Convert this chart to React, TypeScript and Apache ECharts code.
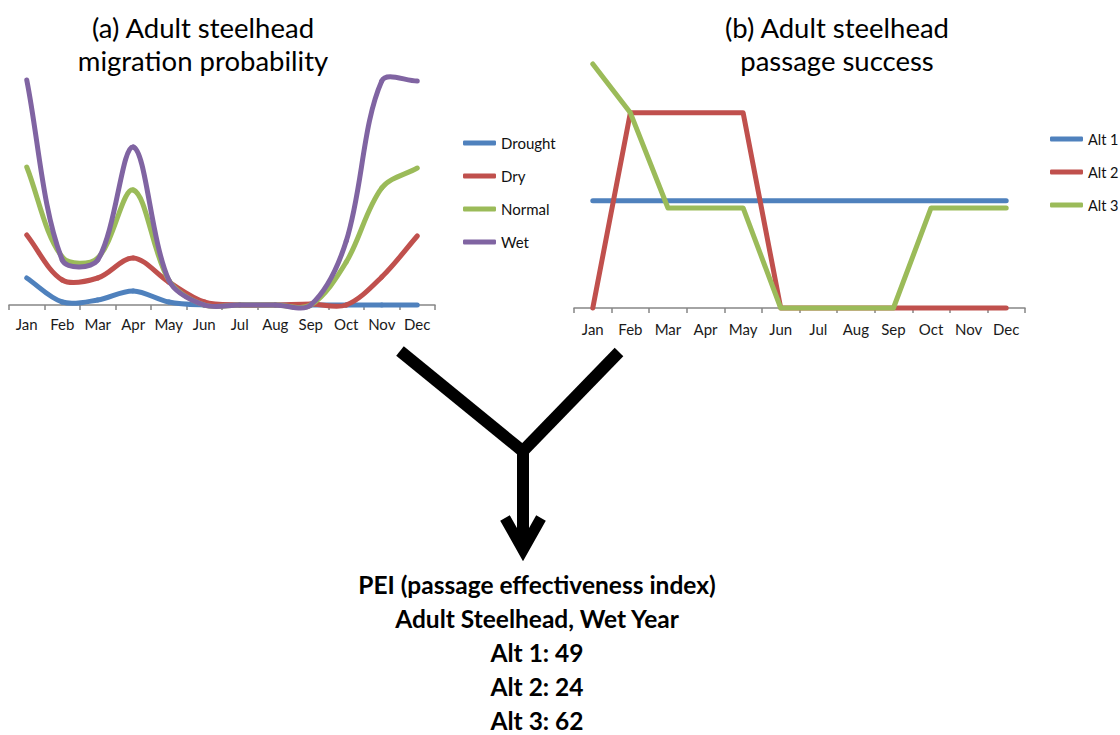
import React, { useEffect, useRef } from "react";
import * as echarts from "echarts";

const months = ["Jan", "Feb", "Mar", "Apr", "May", "Jun", "Jul", "Aug", "Sep", "Oct", "Nov", "Dec"];

// (a) migration probability (relative units)
const drought = [0.027, 0.003, 0.005, 0.014, 0.003, 0, 0, 0, 0, 0, 0, 0];
const dry = [0.07, 0.025, 0.027, 0.047, 0.023, 0.003, 0, 0, 0.001, 0, 0.028, 0.069];
const normal = [0.138, 0.048, 0.047, 0.115, 0.025, 0, 0, 0, 0, 0.043, 0.117, 0.137];
const wet = [0.225, 0.045, 0.045, 0.158, 0.025, 0, 0, 0, 0, 0.064, 0.224, 0.224];

// (b) passage success
const alt1 = [0.44, 0.44, 0.44, 0.44, 0.44, 0.44, 0.44, 0.44, 0.44, 0.44, 0.44, 0.44];
const alt2 = [0, 0.8, 0.8, 0.8, 0.8, 0, 0, 0, 0, 0, 0, 0];
const alt3 = [1.0, 0.8, 0.41, 0.41, 0.41, 0, 0, 0, 0, 0.41, 0.41, 0.41];

const titleA = ["(a) Adult steelhead", "migration probability"];
const titleB = ["(b) Adult steelhead", "passage success"];
const peiLines = [
  "PEI (passage effectiveness index)",
  "Adult Steelhead, Wet Year",
  "Alt 1: 49",
  "Alt 2: 24",
  "Alt 3: 62",
];

const BLUE = "#4F81BD";
const RED = "#C0504D";
const GREEN = "#9BBB59";
const PURPLE = "#8064A2";
const LW = 5;

// Excel-like smoothed line (chord-weighted Catmull-Rom segments) through the axis scales
function smoothSeries(name: string, values: number[], color: string) {
  const n = values.length;
  return {
    type: "custom" as const,
    name,
    xAxisIndex: 0,
    yAxisIndex: 0,
    itemStyle: { color },
    data: values.map((v, i) => [i, v]),
    encode: { x: 0, y: 1 },
    renderItem: (params: any, api: any) => {
      const i = params.dataIndex;
      if (i >= n - 1) return null;
      const pt = (k: number) => {
        const kk = Math.max(0, Math.min(n - 1, k));
        return api.coord([kk, values[kk]]);
      };
      const dist = (a: number[], b: number[]) => Math.hypot(a[0] - b[0], a[1] - b[1]);
      const p0 = pt(i - 1);
      const p1 = pt(i);
      const p2 = pt(i + 1);
      const p3 = pt(i + 2);
      const s = 1 / 3;
      const l01 = dist(p0, p1);
      const l12 = dist(p1, p2);
      const l23 = dist(p2, p3);
      const r1 = l01 + l12 > 0 ? l12 / (l01 + l12) : 0.5;
      const r2 = l12 + l23 > 0 ? l12 / (l12 + l23) : 0.5;
      return {
        type: "bezierCurve",
        shape: {
          x1: p1[0],
          y1: p1[1],
          x2: p2[0],
          y2: p2[1],
          cpx1: p1[0] + (p2[0] - p0[0]) * s * r1,
          cpy1: p1[1] + (p2[1] - p0[1]) * s * r1,
          cpx2: p2[0] - (p3[0] - p1[0]) * s * r2,
          cpy2: p2[1] - (p3[1] - p1[1]) * s * r2,
        },
        style: { stroke: color, lineWidth: LW, fill: null, lineCap: "round" },
      };
    },
  };
}

export default function App() {
  const ref = useRef<HTMLDivElement>(null);
  useEffect(() => {
    if (!ref.current) return;
    const chart = echarts.init(ref.current, null, { renderer: "svg" });
    const axisCommon = {
      type: "category" as const,
      data: months,
      boundaryGap: true,
      axisLine: { lineStyle: { color: "#868686", width: 1.5 } },
      axisTick: { show: true, interval: 0, length: 5, lineStyle: { color: "#868686", width: 1.5 } },
      axisLabel: { color: "#1a1a1a", fontSize: 15, fontFamily: "Lato", interval: 0 },
    };
    const lineCommon = {
      type: "line" as const,
      showSymbol: false,
      symbol: "none",
      clip: false,
      lineStyle: { width: LW, cap: "round" as const, join: "round" as const },
    };
    const legendCommon = {
      orient: "vertical" as const,
      icon: "roundRect",
      padding: 0,
      itemWidth: 33,
      itemHeight: 5,
      itemGap: 17,
      textStyle: { color: "#111", fontSize: 15, fontFamily: "Lato", lineHeight: 16 },
    };
    const titleText = (lines: string[], cx: number) =>
      lines.map((t, i) => ({
        type: "text",
        x: cx,
        y: 27 + i * 33,
        style: {
          text: t,
          fill: "#000",
          font: "27.5px Lato",
          textAlign: "center",
          textVerticalAlign: "middle",
        },
      }));
    const arrowStyle = { stroke: "#000", lineWidth: 12, lineCap: "butt" };
    chart.setOption({
      animation: false,
      backgroundColor: "#fff",
      grid: [
        { left: 9, width: 426, top: 65, bottom: 430 },
        { left: 574, width: 451, top: 64, bottom: 427 },
      ],
      xAxis: [
        { ...axisCommon, gridIndex: 0, axisLabel: { ...axisCommon.axisLabel, margin: 11 } },
        { ...axisCommon, gridIndex: 1, axisLabel: { ...axisCommon.axisLabel, margin: 13 } },
      ],
      yAxis: [
        { type: "value", gridIndex: 0, min: 0, max: 0.24, show: false },
        { type: "value", gridIndex: 1, min: 0, max: 1.0, show: false },
      ],
      legend: [
        { ...legendCommon, left: 463, top: 135, data: ["Drought", "Dry", "Normal", "Wet"] },
        {
          ...legendCommon,
          left: 1050,
          top: 131,
          textStyle: { ...legendCommon.textStyle, fontSize: 14.5 },
          data: ["Alt 1", "Alt 2", "Alt 3"],
        },
      ],
      series: [
        smoothSeries("Drought", drought, BLUE),
        smoothSeries("Dry", dry, RED),
        smoothSeries("Normal", normal, GREEN),
        smoothSeries("Wet", wet, PURPLE),
        { ...lineCommon, name: "Alt 1", xAxisIndex: 1, yAxisIndex: 1, data: alt1, color: BLUE },
        { ...lineCommon, name: "Alt 2", xAxisIndex: 1, yAxisIndex: 1, data: alt2, color: RED },
        { ...lineCommon, name: "Alt 3", xAxisIndex: 1, yAxisIndex: 1, data: alt3, color: GREEN },
      ],
      graphic: [
        ...titleText(titleA, 203),
        ...titleText(titleB, 837),
        { type: "line", shape: { x1: 400, y1: 351, x2: 525, y2: 453 }, style: arrowStyle },
        { type: "line", shape: { x1: 619, y1: 352, x2: 521, y2: 453 }, style: arrowStyle },
        { type: "line", shape: { x1: 523, y1: 448, x2: 523, y2: 548 }, style: arrowStyle },
        {
          type: "polyline",
          shape: { points: [[505, 518], [523, 550], [541, 518]] },
          style: { stroke: "#000", lineWidth: 11, lineJoin: "miter", fill: null },
        },
        ...peiLines.map((t, i) => ({
          type: "text",
          x: 537,
          y: 584 + i * 34.2,
          style: {
            text: t,
            fill: "#000",
            font: "bold 24.5px Lato",
            textAlign: "center",
            textVerticalAlign: "middle",
          },
        })),
      ],
    });
    return () => chart.dispose();
  }, []);
  return (
    <div
      ref={ref}
      style={{ position: "fixed", left: 0, top: 0, width: 1120, height: 735, background: "#fff" }}
    />
  );
}
